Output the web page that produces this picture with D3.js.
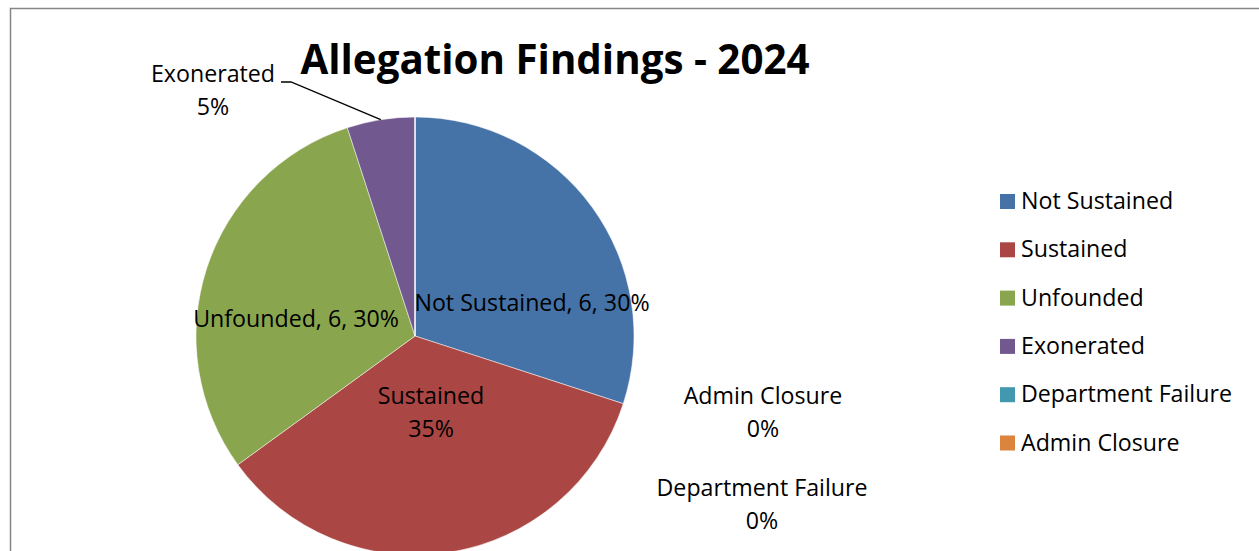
<!DOCTYPE html>
<html>
<head>
<meta charset="utf-8">
<script src="https://cdn.jsdelivr.net/npm/d3@7"></script>
<style>
  body { margin: 0; background: #fff; }
  text { font-family: "Open Sans", Lato, sans-serif; fill: #000; }
</style>
</head>
<body>
<script>
const categories = ["Not Sustained", "Sustained", "Unfounded", "Exonerated", "Department Failure", "Admin Closure"];
const counts = [6, 7, 6, 1, 0, 0];
const colors = ["#4572A7", "#AA4643", "#89A54E", "#71588F", "#4198AF", "#DB843D"];

const width = 1259, height = 551;
const cx = 415, cy = 336, radius = 219;

const svg = d3.select("body").append("svg")
    .attr("width", width)
    .attr("height", height);

// chart frame
svg.append("rect")
    .attr("x", 10.5).attr("y", 8.5)
    .attr("width", 1260).attr("height", 600)
    .attr("fill", "none")
    .attr("stroke", "#868686")
    .attr("stroke-width", 1.5);

svg.append("text")
    .attr("x", 555).attr("y", 74)
    .attr("text-anchor", "middle")
    .style("font-size", "40.3px")
    .style("font-weight", "bold")
    .text("Allegation Findings - 2024");

const data = categories.map((c, i) => ({ name: c, value: counts[i], color: colors[i] }));
const total = d3.sum(counts);
const pct = d => Math.round(d.value / total * 100) + "%";

const pie = d3.pie().value(d => d.value).sort(null);
const arc = d3.arc().innerRadius(0).outerRadius(radius);
const arcs = pie(data);

const g = svg.append("g").attr("transform", `translate(${cx},${cy})`);

g.selectAll("path")
    .data(arcs)
    .enter().append("path")
    .attr("d", arc)
    .attr("fill", d => d.data.color)
    .attr("stroke", "#fff")
    .attr("stroke-width", 0.5);

// label placement (relative to pie centre)
const labelPos = {
    "Not Sustained": { x: 117, y: -25, lines: d => [`${d.data.name}, ${d.value}, ${pct(d)}`] },
    "Unfounded": { x: -119, y: -9, lines: d => [`${d.data.name}, ${d.value}, ${pct(d)}`] },
    "Sustained": { x: 16, y: 68, lines: d => [d.data.name, pct(d)] },
    "Exonerated": { x: -202, y: -254, lines: d => [d.data.name, pct(d)] },
    "Admin Closure": { x: 348, y: 68, lines: d => [d.data.name, pct(d)] },
    "Department Failure": { x: 347, y: 160, lines: d => [d.data.name, pct(d)] }
};

const labels = g.selectAll("g.lbl")
    .data(arcs)
    .enter().append("g")
    .attr("class", "lbl");

labels.each(function(d) {
    const p = labelPos[d.data.name];
    const t = d3.select(this).append("text")
        .attr("text-anchor", "middle")
        .style("font-size", "23.2px");
    p.lines(d).forEach((s, i) => {
        t.append("tspan")
            .attr("x", p.x)
            .attr("y", p.y + i * 33)
            .text(s);
    });
});

// leader line for the small Exonerated slice
const exo = arcs.find(d => d.data.name === "Exonerated");
const mid = (exo.startAngle + exo.endAngle) / 2;
const edge = [Math.sin(mid) * radius, -Math.cos(mid) * radius];
const ep = labelPos["Exonerated"];
g.append("polyline")
    .attr("points", [[ep.x + 68, ep.y], [ep.x + 78, ep.y], edge].map(p => p.join(",")).join(" "))
    .attr("fill", "none")
    .attr("stroke", "#000")
    .attr("stroke-width", 1.3);

// legend
const legend = svg.append("g").attr("transform", "translate(1000,201)");
const item = legend.selectAll("g")
    .data(data)
    .enter().append("g")
    .attr("transform", (d, i) => `translate(0,${i * 48.3})`);
item.append("rect")
    .attr("x", 0).attr("y", -7)
    .attr("width", 15).attr("height", 15)
    .attr("fill", d => d.color);
item.append("text")
    .attr("x", 21).attr("y", 8)
    .style("font-size", "23.2px")
    .text(d => d.name);
</script>
</body>
</html>
